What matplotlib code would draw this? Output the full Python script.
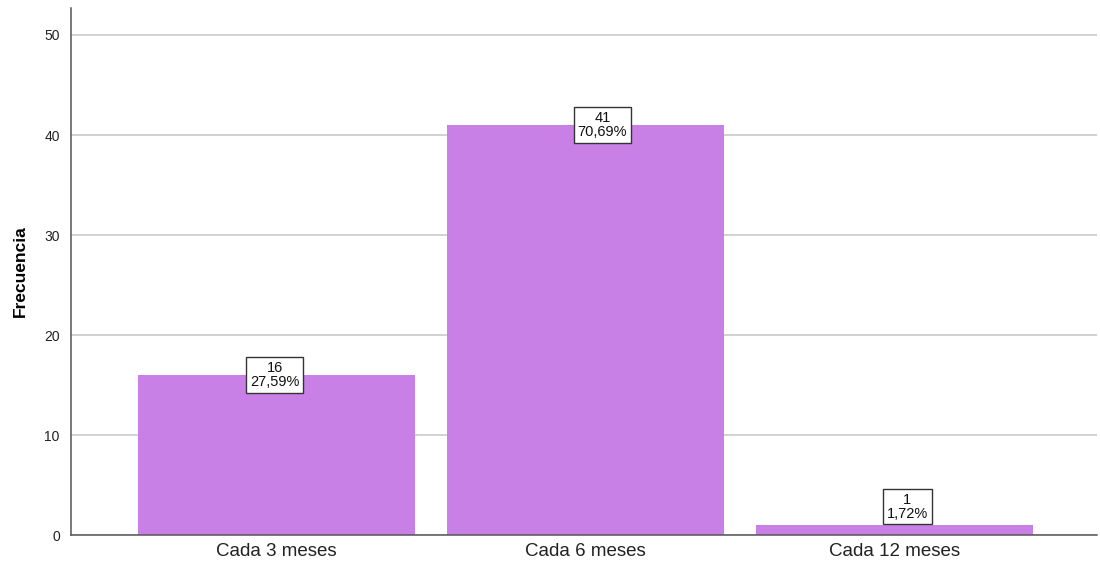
import matplotlib.pyplot as plt
import numpy as np

plt.rcParams['font.family'] = ['Liberation Sans', 'DejaVu Sans']

categorias = ['Cada 3 meses', 'Cada 6 meses', 'Cada 12 meses']
frecuencia = [16, 41, 1]
porcentaje = ['27,59%', '70,69%', '1,72%']

# the label boxes are not exactly centred on the bars in the original
desplaz_x = [-0.006, 0.055, 0.042]

fig = plt.figure(figsize=(11, 5.71), dpi=100)
ax = fig.add_axes([0.0645, 0.063, 0.9325, 0.923])

x = np.arange(len(categorias))
ax.bar(x, frecuencia, width=0.897, color='#c980e6', zorder=2)

for xi, f, p, dx in zip(x, frecuencia, porcentaje, desplaz_x):
    # small bars: put the label box above the bar instead of across it
    y_lbl = f if f > 2 else f + 1.85
    ax.text(xi + dx, y_lbl, f'{f}\n{p}', ha='center', va='center', fontsize=10.5,
            linespacing=1.0, zorder=3, color='#111111',
            bbox=dict(boxstyle='square,pad=0.25', fc='white', ec='#333333', lw=1))

ax.set_xlim(-0.665, 2.655)
ax.set_ylim(0, 52.7)
ax.set_yticks([0, 10, 20, 30, 40, 50])
ax.set_xticks(x)
ax.set_xticklabels(categorias, fontsize=13.5, color='#222222')
ax.tick_params(axis='y', labelsize=10, length=0, pad=8, labelcolor='#222222')
ax.tick_params(axis='x', length=0, pad=6)
ax.yaxis.grid(True, color='#cfcfcf', lw=1.3, zorder=1)
ax.set_axisbelow(True)
for s in ['top', 'right']:
    ax.spines[s].set_visible(False)
for s in ['left', 'bottom']:
    ax.spines[s].set_color('#555555')
    ax.spines[s].set_linewidth(1.1)
ax.set_ylabel('Frecuencia', fontsize=12.5, fontweight='bold', labelpad=12)

fig.savefig('out.png', dpi=100)
